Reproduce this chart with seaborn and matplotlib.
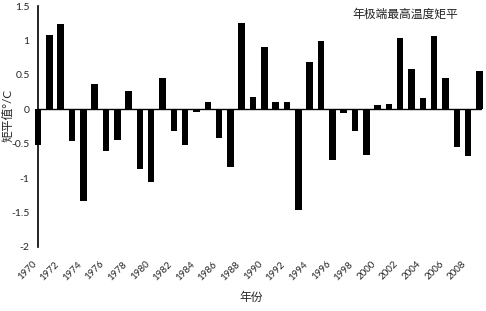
import seaborn as sns
import matplotlib.pyplot as plt
import numpy as np
import pandas as pd

# Annual extreme maximum temperature anomaly, 1970-2009
years = list(range(1970, 2010))
anomaly = [-0.52, 1.08, 1.24, -0.46, -1.33, 0.37, -0.61, -0.44, 0.26, -0.87,
           -1.06, 0.46, -0.32, -0.52, -0.04, 0.11, -0.41, -0.84, 1.26, 0.18,
           0.91, 0.11, 0.11, -1.46, 0.69, 0.99, -0.73, -0.06, -0.32, -0.66,
           0.06, 0.08, 1.03, 0.58, 0.16, 1.07, 0.46, -0.55, -0.68, 0.55]
ytick_vals = [-2, -1.5, -1, -0.5, 0, 0.5, 1, 1.5]
ytick_labels = ['-2', '-1.5', '-1', '-0.5', '0', '0.5', '1', '1.5']

df = pd.DataFrame({'year': [str(y) for y in years], 'anomaly': anomaly})

sns.set_style('white')
plt.rcParams['font.family'] = ['Lato', 'Noto Sans CJK SC', 'DejaVu Sans']

fig = plt.figure(figsize=(4.86, 3.11), dpi=100)
ax = fig.add_axes([38 / 486, 1 - 247 / 311, 443.7 / 486, 241 / 311])

sns.barplot(data=df, x='year', y='anomaly', color='black', width=0.58,
            saturation=1, ax=ax)
for p in ax.patches:
    p.set_clip_on(False)
    p.set_edgecolor('none')

ax.set_xlim(0, 39.2)
ax.set_ylim(-2, 1.5)
ax.axhline(0, color='black', linewidth=1.0, zorder=0.5)

for s in ['top', 'right', 'bottom']:
    ax.spines[s].set_visible(False)
ax.spines['left'].set_color('black')
ax.spines['left'].set_linewidth(1.2)

ax.set_yticks(ytick_vals)
ax.set_yticklabels(ytick_labels, fontsize=7.5)
ax.tick_params(axis='y', direction='inout', length=4, width=1, color='black', pad=4)

ax.set_xticks(range(0, 40, 2))
ax.set_xticklabels([str(y) for y in years[::2]], rotation=45, ha='right', fontsize=7)
ax.tick_params(axis='x', length=0, pad=9)

ax.set_xlabel('')
ax.set_ylabel('')

ax.text(0.827, 0.965, '年极端最高温度矩平', transform=ax.transAxes,
        ha='center', va='center', fontsize=8.5, color='#222222')
fig.text(251 / 486, 1 - 297 / 311, '年份', ha='center', va='center', fontsize=8.5)
fig.text(8 / 486, 1 - 115 / 311, '矩平值°/C', rotation=90, ha='center', va='center', fontsize=8.5)

fig.savefig('out.png', dpi=100)
